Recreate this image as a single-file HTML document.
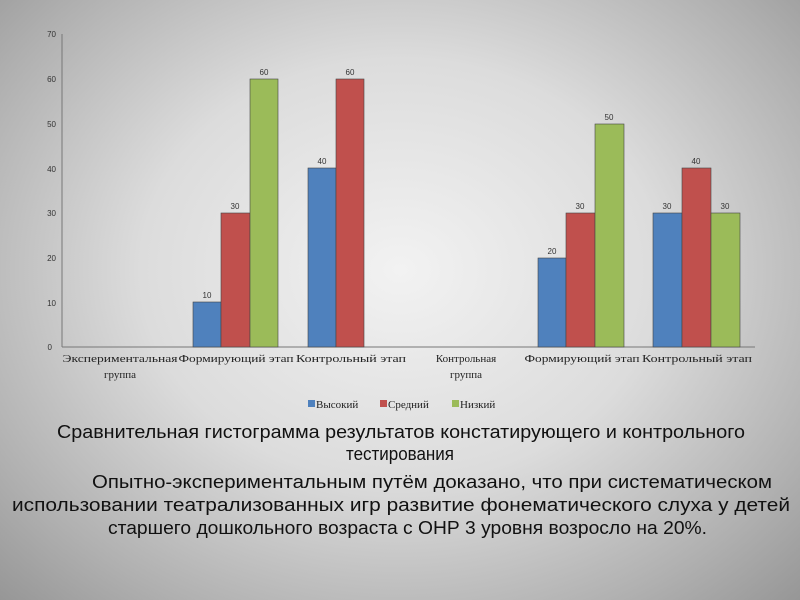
<!DOCTYPE html>
<html><head><meta charset="utf-8"><style>
html,body{margin:0;padding:0}
body{width:800px;height:600px;overflow:hidden;position:relative;
background:radial-gradient(ellipse 72% 78% at 50% 45%,#f2f2f2 0%,#dcdcdc 45%,#b0b0b0 80%,#959595 100%);
font-family:"Liberation Sans","Noto Sans CJK SC",sans-serif}
</style></head><body>
<svg width="800" height="600" style="position:absolute;left:0;top:0" font-family="Liberation Serif, serif">
<g font-family="Liberation Sans, sans-serif" font-size="8" fill="#333" text-anchor="end">
<text x="52" y="350">0</text><text x="56" y="306">10</text><text x="56" y="261">20</text><text x="56" y="216">30</text><text x="56" y="172">40</text><text x="56" y="127">50</text><text x="56" y="82">60</text><text x="56" y="37">70</text>
</g>
<line x1="62" y1="34" x2="62" y2="347" stroke="#777" stroke-width="1"/>
<line x1="62" y1="347" x2="755" y2="347" stroke="#777" stroke-width="1"/>
<g stroke="#444" stroke-width="0.6">
<rect x="193" y="302" width="28" height="45" fill="#4f81bd"/>
<rect x="221" y="213" width="29" height="134" fill="#c0504d"/>
<rect x="250" y="79" width="28" height="268" fill="#9bbb59"/>
<rect x="308" y="168" width="28" height="179" fill="#4f81bd"/>
<rect x="336" y="79" width="28" height="268" fill="#c0504d"/>
<rect x="538" y="258" width="28" height="89" fill="#4f81bd"/>
<rect x="566" y="213" width="29" height="134" fill="#c0504d"/>
<rect x="595" y="124" width="29" height="223" fill="#9bbb59"/>
<rect x="653" y="213" width="29" height="134" fill="#4f81bd"/>
<rect x="682" y="168" width="29" height="179" fill="#c0504d"/>
<rect x="711" y="213" width="29" height="134" fill="#9bbb59"/>
</g>
<g font-family="Liberation Sans, sans-serif" font-size="8" fill="#333" text-anchor="middle">
<text x="207" y="298">10</text><text x="235" y="209">30</text><text x="264" y="75">60</text>
<text x="322" y="164">40</text><text x="350" y="75">60</text>
<text x="552" y="254">20</text><text x="580" y="209">30</text><text x="609" y="120">50</text>
<text x="667" y="209">30</text><text x="696" y="164">40</text><text x="725" y="209">30</text>
</g>
<g font-size="11" fill="#222" text-anchor="middle">
<text x="120" y="362" textLength="115" lengthAdjust="spacingAndGlyphs">Экспериментальная</text><text x="120" y="378">группа</text>
<text x="236" y="362" textLength="115" lengthAdjust="spacingAndGlyphs">Формирующий этап</text>
<text x="351" y="362" textLength="110" lengthAdjust="spacingAndGlyphs">Контрольный этап</text>
<text x="466" y="362">Контрольная</text><text x="466" y="378">группа</text>
<text x="582" y="362" textLength="115" lengthAdjust="spacingAndGlyphs">Формирующий этап</text>
<text x="697" y="362" textLength="110" lengthAdjust="spacingAndGlyphs">Контрольный этап</text>
</g>
<g font-size="11" fill="#222">
<rect x="308" y="400" width="7" height="7" fill="#4f81bd"/><text x="316" y="408">Высокий</text>
<rect x="380" y="400" width="7" height="7" fill="#c0504d"/><text x="388" y="408">Средний</text>
<rect x="452" y="400" width="7" height="7" fill="#9bbb59"/><text x="460" y="408">Низкий</text>
</g>
<g font-family="Liberation Sans, sans-serif" font-size="18" fill="#111" lengthAdjust="spacingAndGlyphs">
<text x="57" y="438" textLength="688" lengthAdjust="spacingAndGlyphs">Сравнительная гистограмма результатов констатирующего и контрольного</text>
<text x="346" y="460" textLength="108" lengthAdjust="spacingAndGlyphs">тестирования</text>
<text x="92" y="488" textLength="680" lengthAdjust="spacingAndGlyphs">Опытно-экспериментальным  путём  доказано, что при систематическом</text>
<text x="12" y="511" textLength="778" lengthAdjust="spacingAndGlyphs">использовании театрализованных игр развитие фонематического слуха у детей</text>
<text x="108" y="534" textLength="599" lengthAdjust="spacingAndGlyphs">старшего дошкольного возраста с ОНР 3 уровня возросло на 20%.</text>
</g>
</svg>
</body></html>
